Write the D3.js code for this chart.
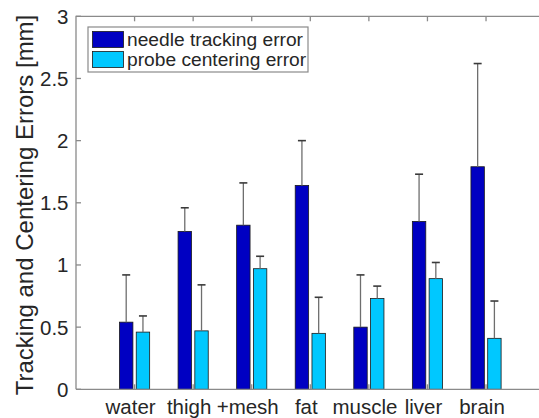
<!DOCTYPE html>
<html>
<head>
<meta charset="utf-8">
<script src="https://cdn.jsdelivr.net/npm/d3@7"></script>
<style>
  body { margin: 0; background: #fff; }
  svg { display: block; font-family: "Liberation Sans", Arial, Helvetica, sans-serif; }
</style>
</head>
<body>
<svg id="drawing_region"></svg>
<script>
const categories = ['water', 'thigh', '+mesh', 'fat', 'muscle', 'liver', 'brain'];
const seriesNames = ['needle tracking error', 'probe centering error'];
const needleMean = [0.54, 1.27, 1.32, 1.64, 0.50, 1.35, 1.79];
const needleErr  = [0.38, 0.19, 0.34, 0.36, 0.42, 0.38, 0.83];
const probeMean  = [0.46, 0.47, 0.97, 0.45, 0.73, 0.89, 0.41];
const probeErr   = [0.13, 0.37, 0.10, 0.29, 0.10, 0.13, 0.30];
const yTicks = [0, 0.5, 1, 1.5, 2, 2.5, 3];
const colors = ['#0000c2', '#00c8ff'];

const width = 539, height = 418;
const svg = d3.select('#drawing_region')
    .attr('width', width)
    .attr('height', height);

const x = d3.scaleLinear().domain([0, 8]).range([76, 544.6]);
const y = d3.scaleLinear().domain([0, 3]).range([389.3, 16.3]);

const axisColor = '#8a8a8a';
const textColor = '#262626';

// bottom ticks go under the bars (only the gaps show them)
const under = svg.append('g')
    .attr('stroke', axisColor)
    .attr('stroke-width', 1.3);
categories.forEach((d, i) => {
    under.append('line').attr('x1', x(i + 1)).attr('x2', x(i + 1)).attr('y1', y(0)).attr('y2', y(0) - 5);
});

// bars: matlab style grouped offsets
const offsets = [-0.143, 0.143];
const barW = x(0.229) - x(0);
const series = [
    { mean: needleMean, err: needleErr },
    { mean: probeMean, err: probeErr }
];

series.forEach((s, si) => {
    const g = svg.append('g');
    g.selectAll('rect')
        .data(categories)
        .enter()
        .append('rect')
        .attr('x', (d, i) => x(i + 1 + offsets[si]) - barW / 2)
        .attr('y', (d, i) => y(s.mean[i]))
        .attr('width', barW)
        .attr('height', (d, i) => y(0) - y(s.mean[i]))
        .attr('fill', colors[si])
        .attr('stroke', '#1a1a1a')
        .attr('stroke-width', 0.8);
});

// error bars (upper part visible)
series.forEach((s, si) => {
    const g = svg.append('g');
    categories.forEach((d, i) => {
        const cx = x(i + 1 + offsets[si]);
        g.append('line')
            .attr('x1', cx).attr('x2', cx)
            .attr('y1', y(s.mean[i])).attr('y2', y(s.mean[i] + s.err[i]))
            .attr('stroke', '#6e6e6e')
            .attr('stroke-width', 1.3);
        g.append('line')
            .attr('x1', cx - 4).attr('x2', cx + 4)
            .attr('y1', y(s.mean[i] + s.err[i])).attr('y2', y(s.mean[i] + s.err[i]))
            .attr('stroke', '#3a3a3a')
            .attr('stroke-width', 1.6);
    });
});

// axes box
const box = svg.append('g')
    .attr('stroke', axisColor)
    .attr('stroke-width', 1.3)
    .attr('fill', 'none');
box.append('path')
    .attr('d', `M${x(0)},${y(0)}H${x(8)}M${x(0)},${y(0)}V${y(3)}H${x(8)}V${y(0)}`);

// y ticks (inward, both sides)
yTicks.forEach(t => {
    box.append('line').attr('x1', x(0)).attr('x2', x(0) + 5).attr('y1', y(t)).attr('y2', y(t));
    box.append('line').attr('x1', x(8)).attr('x2', x(8) - 5).attr('y1', y(t)).attr('y2', y(t));
});
// x ticks on top (inward)
categories.forEach((d, i) => {
    box.append('line').attr('x1', x(i + 1)).attr('x2', x(i + 1)).attr('y1', y(3)).attr('y2', y(3) + 5);
});

svg.append('g')
    .selectAll('text')
    .data(yTicks)
    .enter()
    .append('text')
    .attr('x', x(0) - 7.5)
    .attr('y', d => y(d))
    .attr('dy', '0.36em')
    .attr('text-anchor', 'end')
    .attr('font-size', 20.5)
    .attr('fill', textColor)
    .text(d => d);

svg.append('g')
    .selectAll('text')
    .data(categories)
    .enter()
    .append('text')
    .attr('x', (d, i) => x(i + 1) - 4)
    .attr('y', 414)
    .attr('text-anchor', 'middle')
    .attr('font-size', 20.5)
    .attr('fill', textColor)
    .text(d => d);

svg.append('text')
    .attr('transform', `translate(33, 205) rotate(-90)`)
    .attr('text-anchor', 'middle')
    .attr('font-size', 24)
    .attr('fill', textColor)
    .text('Tracking and Centering Errors [mm]');

// legend
const legend = svg.append('g');
legend.append('rect')
    .attr('x', 88).attr('y', 27)
    .attr('width', 220).attr('height', 45)
    .attr('fill', '#fff')
    .attr('stroke', axisColor)
    .attr('stroke-width', 1.2);
seriesNames.forEach((name, i) => {
    legend.append('rect')
        .attr('x', 92.5).attr('y', 31.5 + i * 20)
        .attr('width', 31).attr('height', 16)
        .attr('fill', colors[i])
        .attr('stroke', '#1a1a1a')
        .attr('stroke-width', 0.8);
    legend.append('text')
        .attr('x', 127).attr('y', 39.5 + i * 20)
        .attr('dy', '0.36em')
        .attr('font-size', 19.2)
        .attr('fill', textColor)
        .text(name);
});
</script>
</body>
</html>
